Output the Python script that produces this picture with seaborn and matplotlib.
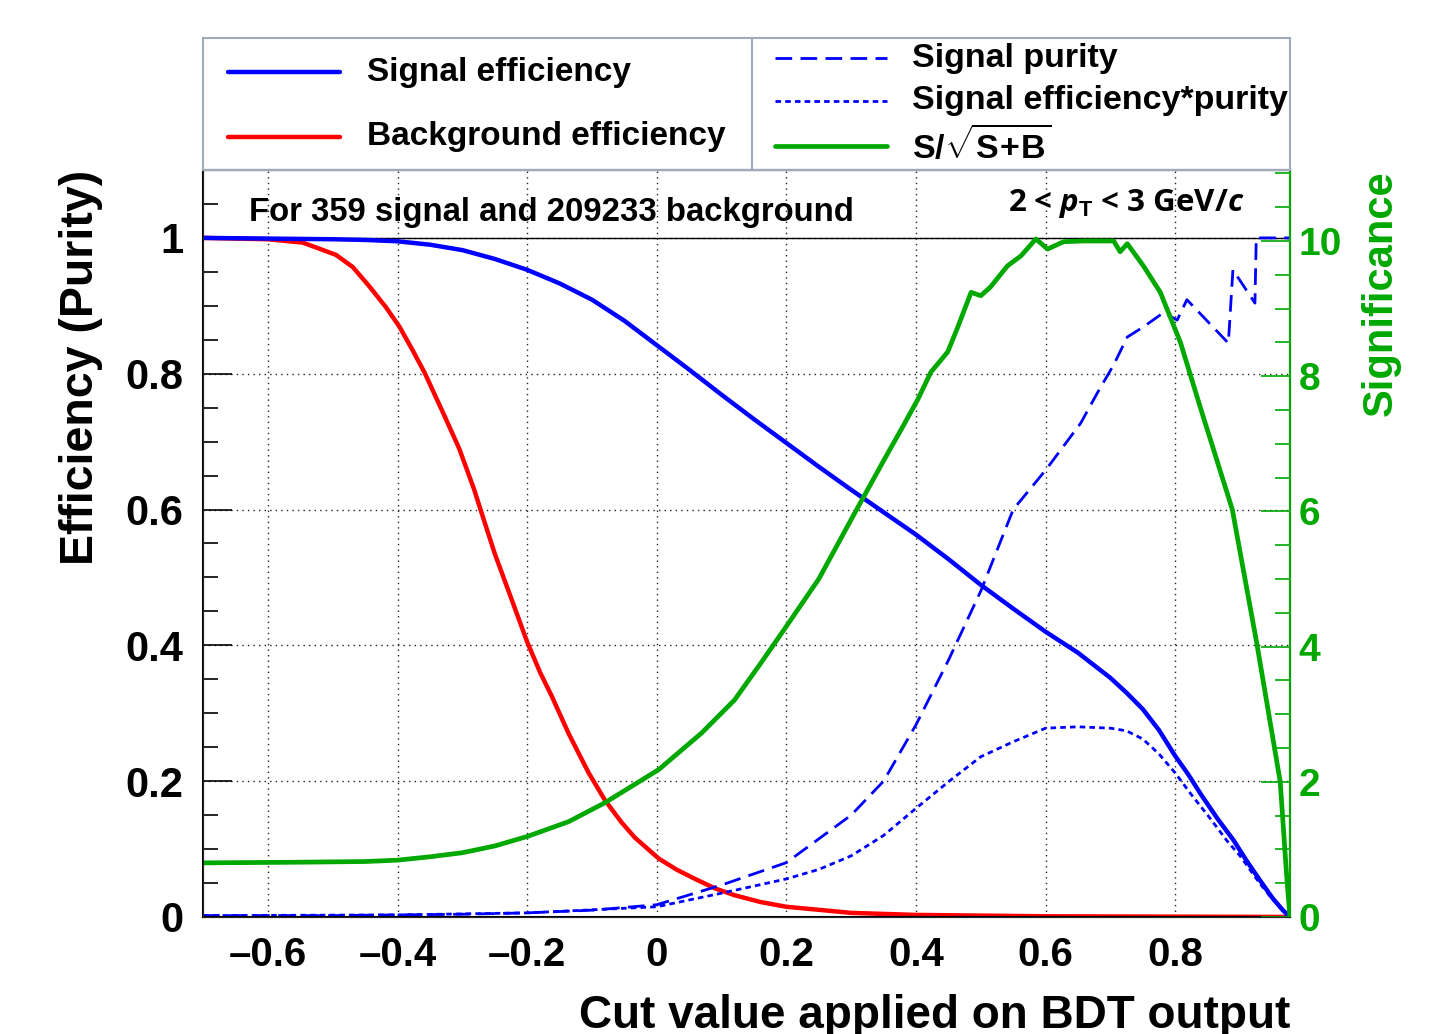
#%% imports
import matplotlib
matplotlib.use("Agg")
import matplotlib.pyplot as plt
import numpy as np
import seaborn as sns
from matplotlib.lines import Line2D
from matplotlib.patches import Rectangle
from matplotlib.ticker import MultipleLocator

#%% data
eff_cut = [-0.7, -0.6, -0.5, -0.45, -0.4, -0.35, -0.3, -0.25, -0.2, -0.15, -0.1, -0.05,
           0.0, 0.05, 0.1, 0.15, 0.2, 0.25, 0.3, 0.35, 0.4, 0.45, 0.5, 0.55, 0.6, 0.65,
           0.7, 0.725, 0.75, 0.775, 0.8, 0.82, 0.84, 0.865, 0.89, 0.91, 0.93, 0.95, 0.966, 0.977]
sig_eff = [1.0, 0.999, 0.998, 0.997, 0.995, 0.99, 0.982, 0.969, 0.953, 0.933, 0.909, 0.878,
           0.842, 0.806, 0.769, 0.733, 0.698, 0.663, 0.629, 0.596, 0.563, 0.527, 0.489, 0.454, 0.42, 0.389,
           0.352, 0.33, 0.306, 0.275, 0.237, 0.21, 0.18, 0.145, 0.113, 0.083, 0.055, 0.028, 0.01, 0.0]

bkg_cut = [-0.7, -0.65, -0.6, -0.546, -0.495, -0.469, -0.443, -0.418, -0.397, -0.377, -0.358,
           -0.331, -0.305, -0.282, -0.272, -0.25, -0.223, -0.2, -0.18, -0.162, -0.136, -0.12,
           -0.105, -0.08, -0.055, -0.034, 0.003, 0.03, 0.059, 0.09, 0.12, 0.16, 0.2, 0.3, 0.4,
           0.6, 0.977]
bkg_eff = [1.0, 0.999, 0.998, 0.993, 0.975, 0.957, 0.928, 0.898, 0.869, 0.835, 0.801,
           0.745, 0.69, 0.63, 0.6, 0.535, 0.465, 0.405, 0.36, 0.325, 0.27, 0.24,
           0.212, 0.172, 0.14, 0.117, 0.086, 0.07, 0.056, 0.042, 0.032, 0.022, 0.015, 0.006, 0.003,
           0.001, 0.0]

sig_cut = [-0.7, -0.55, -0.45, -0.4, -0.35, -0.3, -0.25, -0.2, -0.136, -0.08, 0.003, 0.069,
           0.12, 0.158, 0.2, 0.25, 0.3, 0.35, 0.38, 0.403, 0.423, 0.449, 0.465, 0.485, 0.5,
           0.515, 0.541, 0.562, 0.585, 0.603, 0.628, 0.66, 0.705, 0.715, 0.726, 0.751, 0.777,
           0.808, 0.838, 0.888, 0.926, 0.962, 0.972, 0.977]
significance = [0.8, 0.81, 0.82, 0.84, 0.89, 0.95, 1.05, 1.19, 1.41, 1.69, 2.18, 2.72,
                3.21, 3.72, 4.3, 5.0, 5.88, 6.75, 7.26, 7.66, 8.06, 8.36, 8.74, 9.24, 9.19,
                9.32, 9.63, 9.78, 10.03, 9.88, 9.99, 10.0, 10.0, 9.84, 9.96, 9.63, 9.24,
                8.5, 7.56, 6.03, 4.04, 2.0, 0.6, 0.0]

purity_cut = [-0.7, -0.5, -0.4, -0.3, -0.2, -0.1, 0.0, 0.1, 0.2, 0.3, 0.35, 0.4, 0.45, 0.5,
              0.55, 0.6, 0.654, 0.68, 0.705, 0.726, 0.751, 0.782, 0.803, 0.818, 0.882, 0.889,
              0.923, 0.925, 0.977]
purity = [0.002, 0.002, 0.003, 0.004, 0.006, 0.01, 0.018, 0.047, 0.08, 0.15, 0.2, 0.283, 0.378, 0.48,
          0.6, 0.658, 0.727, 0.772, 0.813, 0.854, 0.869, 0.89, 0.879, 0.909, 0.845, 0.953,
          0.904, 1.0, 1.0]

effpur_cut = [-0.7, -0.4, -0.2, 0.0, 0.1, 0.2, 0.25, 0.3, 0.35, 0.4, 0.45, 0.5, 0.55, 0.6, 0.65,
              0.7, 0.725, 0.75, 0.775, 0.8, 0.825, 0.85, 0.88, 0.9, 0.93, 0.95, 0.977]
eff_purity = [0.002, 0.003, 0.006, 0.015, 0.035, 0.056, 0.07, 0.09, 0.12, 0.16, 0.199, 0.236, 0.258,
              0.278, 0.28, 0.278, 0.274, 0.262, 0.24, 0.212, 0.18, 0.15, 0.112, 0.09, 0.05, 0.026, 0.0]

x_ticks = [-0.6, -0.4, -0.2, 0.0, 0.2, 0.4, 0.6, 0.8]
x_labels = ["\u20130.6", "\u20130.4", "\u20130.2", "0", "0.2", "0.4", "0.6", "0.8"]
y_ticks = [0, 0.2, 0.4, 0.6, 0.8, 1.0]
y_labels = ["0", "0.2", "0.4", "0.6", "0.8", "1"]
sig_ticks = [0, 2, 4, 6, 8, 10]

#%% style
sns.set_style("white")
plt.rcParams['font.family'] = ['Liberation Sans', 'DejaVu Sans']
plt.rcParams['text.color'] = 'black'
plt.rcParams['axes.labelcolor'] = 'black'
plt.rcParams['xtick.color'] = 'black'
plt.rcParams['ytick.color'] = 'black'
plt.rcParams['mathtext.fontset'] = 'custom'
plt.rcParams['mathtext.rm'] = 'Liberation Sans:bold'
plt.rcParams['mathtext.bf'] = 'Liberation Sans:bold'
plt.rcParams['mathtext.it'] = 'Open Sans:italic:bold'

BLUE = '#0000ff'
RED = '#ff0000'
GREEN = '#00a800'

#%% plot
fig = plt.figure(figsize=(14.51, 10.34), dpi=100)
ax = fig.add_axes([0.140, 0.1132, 0.749, 0.7224])

sns.lineplot(x=bkg_cut, y=bkg_eff, ax=ax, color=RED, linewidth=3.2)
sns.lineplot(x=eff_cut, y=sig_eff, ax=ax, color=BLUE, linewidth=3.2)
sns.lineplot(x=purity_cut, y=purity, ax=ax, color=BLUE, linewidth=2, dashes=False,
             linestyle=(0, (6, 3)))
sns.lineplot(x=effpur_cut, y=eff_purity, ax=ax, color=BLUE, linewidth=2, dashes=False,
             linestyle=(0, (2, 1.5)))
ax.axhline(1.0, color='black', linewidth=1, zorder=1)

ax.set_xlim(-0.7, 0.977)
ax.set_ylim(0, 1.1)
ax.set_xticks(x_ticks)
ax.set_xticklabels(x_labels, fontsize=29, fontweight='bold')
ax.set_yticks(y_ticks)
ax.set_yticklabels(y_labels, fontsize=30, fontweight='bold')
ax.xaxis.set_minor_locator(MultipleLocator(0.05))
ax.yaxis.set_minor_locator(MultipleLocator(0.05))
ax.tick_params(which='major', direction='in', length=21, width=1.2, pad=14, top=False, right=False)
ax.tick_params(which='minor', direction='in', length=11, width=1.2, top=False, right=False)
ax.grid(True, which='major', linestyle=(0, (1, 3)), color='#222222', linewidth=1)
for s in ax.spines.values():
    s.set_linewidth(1.5)
    s.set_color('black')

ax.set_xlabel('Cut value applied on BDT output', fontsize=33, fontweight='bold', loc='right', labelpad=14)
ax.set_ylabel('Efficiency (Purity)', fontsize=33.5, fontweight='bold', loc='top', labelpad=16)

# significance on right axis
ax2 = ax.twinx()
sns.lineplot(x=sig_cut, y=significance, ax=ax2, color=GREEN, linewidth=3.4)
ax2.set_ylim(0, 11.05)
ax2.set_xlim(-0.7, 0.977)
ax2.set_yticks(sig_ticks)
ax2.set_yticklabels([str(t) for t in sig_ticks], fontsize=28, fontweight='bold', color=GREEN)
ax2.yaxis.set_minor_locator(MultipleLocator(0.5))
ax2.tick_params(which='major', direction='in', length=21, width=1.2, colors=GREEN, pad=6)
ax2.tick_params(which='minor', direction='in', length=11, width=1.2, colors=GREEN)
ax2.spines['right'].set_color(GREEN)
ax2.spines['right'].set_linewidth(1.5)
ax2.set_ylabel('Significance', fontsize=30, fontweight='bold', color=GREEN, loc='top', labelpad=14)
ax2.grid(False)

# text inside the frame
ax.text(0.042, 0.943, 'For 359 signal and 209233 background', transform=ax.transAxes,
        fontsize=23.7, fontweight='bold', va='center', ha='left')
ax.text(0.958, 0.955, r'2 < $p_{\rm T}$ < 3 GeV/$c$', transform=ax.transAxes,
        fontsize=22.5, fontweight='bold', family=['Open Sans', 'DejaVu Sans'], va='center', ha='right')

# legend boxes above the frame
W, H = 1451.0, 1034.0
def fx(px):
    return px / W
def fy(py):
    return 1 - py / H

edge = '#a0aabb'
fig.add_artist(Rectangle((fx(203), fy(170)), fx(752) - fx(203), fy(38) - fy(170),
                         transform=fig.transFigure, fill=False, edgecolor=edge, linewidth=1.5))
fig.add_artist(Rectangle((fx(752), fy(170)), fx(1290) - fx(752), fy(38) - fy(170),
                         transform=fig.transFigure, fill=False, edgecolor=edge, linewidth=1.5))

legend_left = [('Signal efficiency', BLUE, '-', 3.2, 72), ('Background efficiency', RED, '-', 3.2, 137)]
legend_right = [('Signal purity', BLUE, (0, (6, 3)), 2, 58),
                ('Signal efficiency*purity', BLUE, (0, (2, 1.5)), 2, 101),
                (r'S/$\sqrt{\rm S\!+\!B}$', GREEN, '-', 3.4, 146)]
for lab, col, ls, lw, py in legend_left:
    fig.add_artist(Line2D([fx(228), fx(340)], [fy(py), fy(py)], color=col, linestyle=ls, linewidth=lw,
                          transform=fig.transFigure))
    fig.text(fx(367), fy(py), lab, fontsize=24, fontweight='bold', va='center', ha='left')
for lab, col, ls, lw, py in legend_right:
    fig.add_artist(Line2D([fx(775), fx(887)], [fy(py), fy(py)], color=col, linestyle=ls, linewidth=lw,
                          transform=fig.transFigure))
    fig.text(fx(912), fy(py), lab, fontsize=24.5, fontweight='bold', va='center', ha='left')

fig.savefig('out.png', dpi=100)
